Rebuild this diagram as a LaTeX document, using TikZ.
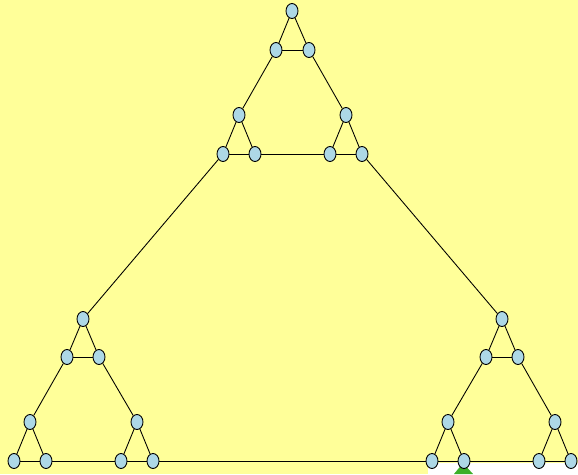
\documentclass[tikz,border=0pt]{standalone}
\usetikzlibrary{shapes.geometric}
\definecolor{paleyellow}{RGB}{255,255,153}
\definecolor{nodeblue}{RGB}{173,216,230}
\definecolor{arrowgreen}{RGB}{60,175,40}

\begin{document}
\begin{tikzpicture}[x=0.02cm,y=-0.02cm,
  vtx/.style={ellipse,draw,fill=nodeblue,minimum width=0.24cm,minimum height=0.3cm,inner sep=0pt,line width=0.5pt}]
\fill[paleyellow] (0,0) rectangle (578,474);
\fill[white] (428,463) rectangle (578,474);
\fill[arrowgreen] (463,463) -- (473,474) -- (454,474) -- cycle;
\useasboundingbox (0,0) rectangle (578,474);
% three groups of three small triangles
\foreach \n/\x/\y in {t1/292/11,t2/276/50,t3/309/50,t4/239/115,t5/223/154,t6/255/154,t7/346/115,t8/330/154,t9/362/154,
  l1/83/319,l2/67/357,l3/99/357,l4/30/422,l5/14/461,l6/46/461,l7/137/422,l8/121/461,l9/153/461,
  r1/502/319,r2/486/357,r3/518/357,r4/448/422,r5/432/461,r6/464/461,r7/555/422,r8/539/461,r9/571/461}
  \node[vtx] (\n) at (\x,\y) {};
\foreach \g in {t,l,r}{
  \foreach \a/\b in {1/2,1/3,2/3,4/5,4/6,5/6,7/8,7/9,8/9,2/4,3/7,6/8}
    \draw[line width=0.5pt] (\g\a) -- (\g\b);
}
\draw[line width=0.5pt] (t5) -- (l1);
\draw[line width=0.5pt] (t9) -- (r1);
\draw[line width=0.5pt] (l9) -- (r5);
\end{tikzpicture}
\end{document}
